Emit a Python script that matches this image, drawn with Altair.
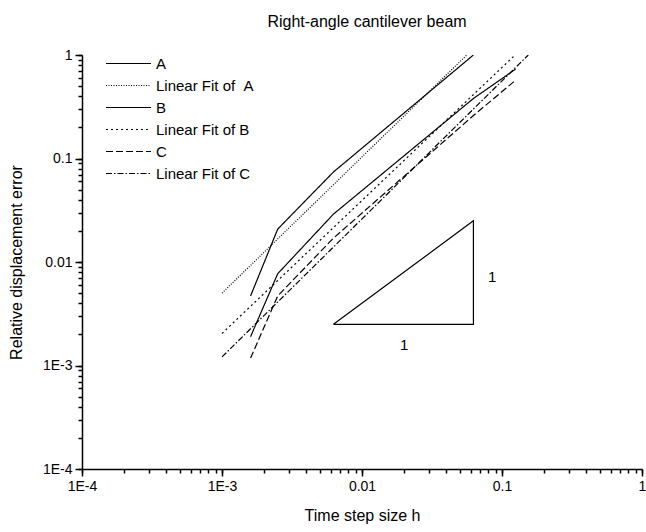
import altair as alt
import pandas as pd

# ---- data ----
series_names = ["A", "Linear Fit of \u00a0A", "B", "Linear Fit of B", "C", "Linear Fit of C"]
series_dash = [[1, 0], [1, 1.5], [1, 0], [2, 3], [7, 3], [6, 2, 1.5, 2]]

h_A = [0.0016, 0.0025, 0.00625, 0.0625]
e_A = [0.0047, 0.0208, 0.074, 1.0]
h_fitA = [0.001, 0.056]
e_fitA = [0.005, 1.0]

h_B = [0.0016, 0.0025, 0.00625, 0.0625, 0.125]
e_B = [0.0019, 0.0077, 0.029, 0.38, 0.73]
h_fitB = [0.001, 0.124]
e_fitB = [0.00204, 1.0]

h_C = [0.0016, 0.0025, 0.00625, 0.0625, 0.125]
e_C = [0.00118, 0.0047, 0.017, 0.26, 0.57]
h_fitC = [0.001, 0.154]
e_fitC = [0.00121, 1.0]

tri_h = [0.00625, 0.0625, 0.0625, 0.00625]
tri_e = [0.0025, 0.0025, 0.025, 0.0025]
tri_label_h = [0.02, 0.085]
tri_label_e = [0.00158, 0.0072]
tri_labels = ["1", "1"]

major_vals = [0.0001, 0.001, 0.01, 0.1, 1]
major_labels = ["1E-4", "1E-3", "0.01", "0.1", "1"]
minor_mult = [2, 3, 4, 5, 6, 7, 8, 9]

# ---- build tables ----
rows = []
for name, hs, es in [
    (series_names[0], h_A, e_A), (series_names[1], h_fitA, e_fitA),
    (series_names[2], h_B, e_B), (series_names[3], h_fitB, e_fitB),
    (series_names[4], h_C, e_C), (series_names[5], h_fitC, e_fitC),
]:
    for i, (h, e) in enumerate(zip(hs, es)):
        rows.append({"series": name, "h": h, "e": e, "i": i})
df = pd.DataFrame(rows)

tri = pd.DataFrame({"h": tri_h, "e": tri_e, "i": list(range(len(tri_h)))})
tri_txt = pd.DataFrame({"h": tri_label_h, "e": tri_label_e, "t": tri_labels})

tick_vals = list(major_vals)
for d in major_vals[:-1]:
    for m in minor_mult:
        tick_vals.append(round(m * d, 10))
tick_vals = sorted(tick_vals)

maj_js = "[" + ",".join(repr(v) for v in major_vals) + "]"
lab_js = "[" + ",".join("'" + s + "'" for s in major_labels) + "]"
is_major = f"indexof({maj_js}, datum.value) >= 0"
label_expr = f"{is_major} ? {lab_js}[indexof({maj_js}, datum.value)] : ''"

FONT = "Liberation Sans"

def minor_axis(title, pad, orient):
    return alt.Axis(
        title=title, orient=orient, values=tick_vals, labelExpr=label_expr, tickSize=4,
        grid=False, domainColor="black", tickColor="black", domainWidth=1.5,
        tickWidth=1.5, labelFont=FONT, labelFontSize=14, labelColor="black",
        titleFont=FONT, titleFontSize=16, titleFontWeight="normal", titleColor="black",
        labelOverlap=False, labelFlush=False, labelPadding=6, titlePadding=pad,
    )

def major_axis(orient):
    return alt.Axis(
        title=None, orient=orient, values=major_vals, labels=False, domain=False,
        tickSize=7, tickWidth=1.5, tickColor="black", grid=False,
    )

xscale = alt.Scale(type="log", domain=[0.0001, 1], nice=False)
yscale = alt.Scale(type="log", domain=[0.0001, 1], nice=False)

lines = alt.Chart(df).mark_line(color="black", strokeWidth=1.2, clip=True).encode(
    x=alt.X("h:Q", scale=xscale, axis=minor_axis("Time step size h", 14, "bottom")),
    y=alt.Y("e:Q", scale=yscale, axis=minor_axis("Relative displacement error", 18, "left")),
    detail="series:N",
    order="i:Q",
    strokeDash=alt.StrokeDash(
        "series:N",
        scale=alt.Scale(domain=series_names, range=series_dash),
        legend=alt.Legend(
            title=None, orient="none", legendX=38, legendY=0,
            symbolType="M-3,0H3", symbolSize=225, symbolStrokeWidth=1.2,
            symbolStrokeColor="black", labelFont=FONT, labelFontSize=15,
            labelColor="black", labelOffset=19, rowPadding=5, padding=0,
        ),
    ),
)

triangle = alt.Chart(tri).mark_line(color="black", strokeWidth=1.2).encode(
    x=alt.X("h:Q", scale=xscale, axis=major_axis("bottom")),
    y=alt.Y("e:Q", scale=yscale, axis=major_axis("left")),
    order="i:Q",
)

tri_text = alt.Chart(tri_txt).mark_text(font=FONT, fontSize=15, color="black").encode(
    x=alt.X("h:Q", scale=xscale, axis=None),
    y=alt.Y("e:Q", scale=yscale, axis=None),
    text="t:N",
)

chart = alt.layer(lines, triangle, tri_text).resolve_axis(
    x="independent", y="independent"
).properties(
    width=560, height=414,
    title=alt.TitleParams("Right-angle cantilever beam", font=FONT, fontSize=16,
                          fontWeight="normal", color="black", offset=18, dx=5),
    autosize=alt.AutoSizeParams(type="none"),
    padding={"left": 82, "top": 55, "right": 4, "bottom": 63},
).configure_view(stroke=None)

chart.save("out.html", embed_options={"renderer": "svg", "actions": False})
